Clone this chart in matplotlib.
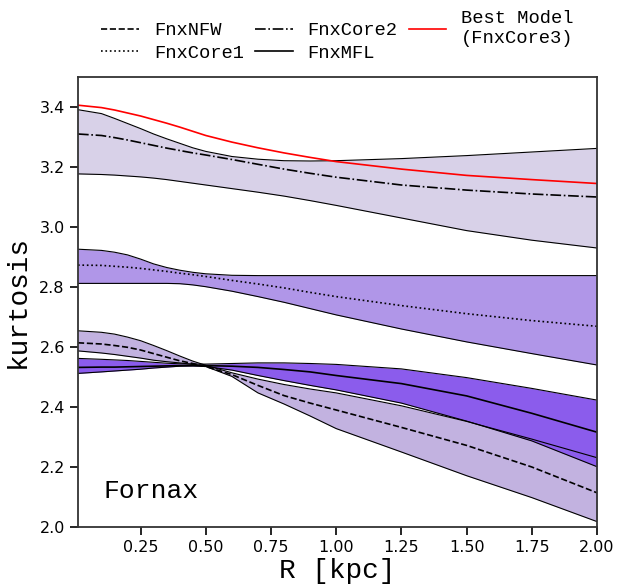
#!/usr/bin/env python
import matplotlib
matplotlib.use('Agg')
import matplotlib.pyplot as plt

mono = 'Liberation Mono'

# radius grid [kpc]
R = [0.01, 0.1, 0.15, 0.2, 0.25, 0.3, 0.35, 0.4, 0.45, 0.5,
     0.6, 0.7, 0.8, 0.9, 1.0, 1.25, 1.5, 1.75, 2.0]

# FnxCore3 (best model)
best = [3.406, 3.398, 3.39, 3.38, 3.37, 3.358, 3.346, 3.333, 3.319, 3.305,
        3.283, 3.264, 3.247, 3.232, 3.218, 3.193, 3.172, 3.158, 3.145]

# FnxCore2
core2_med = [3.31, 3.305, 3.298, 3.29, 3.281, 3.272, 3.263, 3.255, 3.247, 3.24,
             3.225, 3.209, 3.193, 3.179, 3.166, 3.14, 3.123, 3.11, 3.10]
core2_hi = [3.391, 3.378, 3.362, 3.345, 3.328, 3.31, 3.294, 3.279, 3.264, 3.252,
            3.235, 3.226, 3.221, 3.22, 3.221, 3.228, 3.238, 3.25, 3.262]
core2_lo = [3.177, 3.175, 3.173, 3.17, 3.167, 3.163, 3.158, 3.152, 3.146, 3.14,
            3.128, 3.116, 3.103, 3.088, 3.072, 3.03, 2.988, 2.956, 2.93]

# FnxCore1
core1_med = [2.873, 2.872, 2.869, 2.866, 2.862, 2.857, 2.852, 2.846, 2.841, 2.835,
             2.822, 2.81, 2.797, 2.782, 2.768, 2.738, 2.711, 2.688, 2.669]
core1_hi = [2.926, 2.922, 2.916, 2.907, 2.893, 2.877, 2.865, 2.856, 2.849, 2.844,
            2.839, 2.838, 2.838, 2.838, 2.838, 2.838, 2.838, 2.838, 2.838]
core1_lo = [2.812, 2.812, 2.812, 2.812, 2.812, 2.812, 2.812, 2.811, 2.807, 2.801,
            2.786, 2.768, 2.749, 2.728, 2.707, 2.66, 2.617, 2.578, 2.54]

# FnxNFW
nfw_med = [2.614, 2.61, 2.605, 2.599, 2.59, 2.578, 2.566, 2.554, 2.545, 2.535,
           2.508, 2.472, 2.438, 2.413, 2.39, 2.332, 2.272, 2.2, 2.114]
nfw_hi = [2.654, 2.649, 2.643, 2.633, 2.621, 2.605, 2.588, 2.57, 2.553, 2.539,
          2.514, 2.493, 2.475, 2.46, 2.447, 2.404, 2.352, 2.293, 2.231]
nfw_lo = [2.587, 2.58, 2.575, 2.569, 2.563, 2.556, 2.551, 2.547, 2.542, 2.535,
          2.502, 2.447, 2.41, 2.37, 2.328, 2.25, 2.171, 2.098, 2.018]

# FnxMFL
mfl_med = [2.532, 2.533, 2.533, 2.534, 2.535, 2.536, 2.537, 2.538, 2.538, 2.538,
           2.536, 2.532, 2.525, 2.517, 2.505, 2.478, 2.437, 2.379, 2.316]
mfl_hi = [2.562, 2.559, 2.557, 2.555, 2.552, 2.549, 2.546, 2.544, 2.543, 2.543,
          2.545, 2.547, 2.547, 2.545, 2.542, 2.527, 2.498, 2.462, 2.423]
mfl_lo = [2.512, 2.517, 2.52, 2.523, 2.526, 2.53, 2.533, 2.536, 2.537, 2.535,
          2.523, 2.505, 2.488, 2.472, 2.457, 2.413, 2.353, 2.287, 2.201]

fig = plt.figure(figsize=(6.17, 5.86), dpi=100)
ax = fig.add_axes([78/617, 59/586, 519/617, 450/586])

def band(lo, hi, color):
    ax.fill_between(R, lo, hi, color=color, lw=0)
    ax.plot(R, lo, color='k', lw=0.8)
    ax.plot(R, hi, color='k', lw=0.8)

band(core2_lo, core2_hi, '#d8d1e8')
band(core1_lo, core1_hi, '#b096e8')
band(nfw_lo, nfw_hi, '#c2b2e0')
band(mfl_lo, mfl_hi, '#8b5cec')

ax.plot(R, nfw_med, 'k--', lw=1.2, label='FnxNFW')
ax.plot(R, core1_med, 'k:', lw=1.2, label='FnxCore1')
ax.plot(R, core2_med, 'k-.', lw=1.2, label='FnxCore2')
ax.plot(R, mfl_med, 'k-', lw=1.2, label='FnxMFL')
ax.plot(R, best, 'r-', lw=1.2, label='Best Model\n(FnxCore3)')

ax.set_xlim(0.01, 2.0)
ax.set_ylim(2.0, 3.5)
ax.set_xticks([0.25, 0.5, 0.75, 1.0, 1.25, 1.5, 1.75, 2.0])
ax.set_xticklabels(['%.2f' % t for t in ax.get_xticks()])
ax.set_yticks([2.0, 2.2, 2.4, 2.6, 2.8, 3.0, 3.2, 3.4])
ax.set_yticklabels(['%.1f' % t for t in ax.get_yticks()])
ax.tick_params(direction='out', length=6, width=1.2, labelsize=11.5, colors='k')
for s in ax.spines.values():
    s.set_linewidth(1.3)
    s.set_color('#333333')

ax.set_xlabel('R [kpc]', fontsize=20, family=mono, labelpad=2)
ax.set_ylabel('kurtosis', fontsize=20, family=mono, labelpad=6)
ax.text(0.05, 0.08, 'Fornax', transform=ax.transAxes, fontsize=19,
        family=mono, va='center', ha='left')

ax.legend(loc='lower center', bbox_to_anchor=(0.5, 1.0), ncol=3, frameon=False,
          prop={'family': mono, 'size': 13.5}, handlelength=2.0,
          handletextpad=0.8, columnspacing=0.6, labelspacing=0.3, borderpad=0.3)

fig.savefig('out.png', dpi=100)
